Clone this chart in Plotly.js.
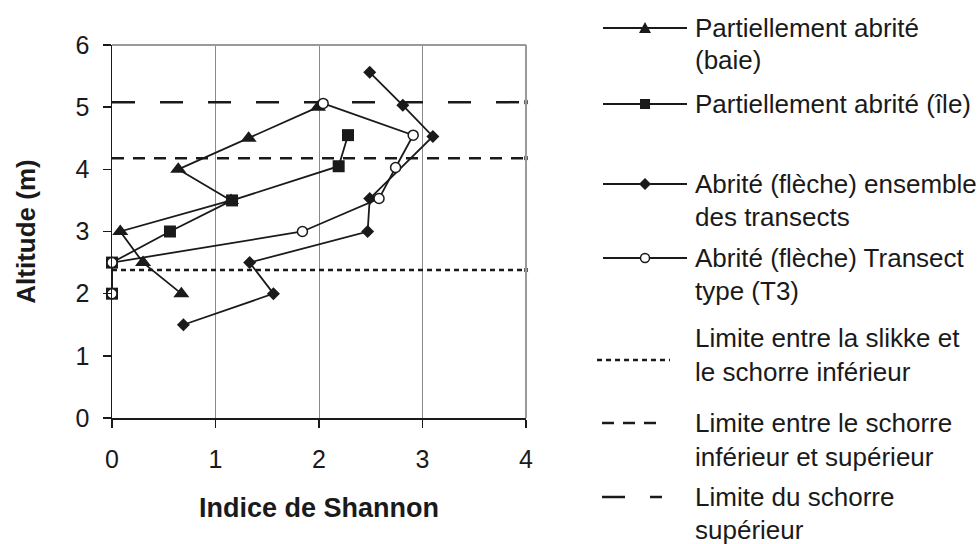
<!DOCTYPE html>
<html>
<head>
<meta charset="utf-8">
<script src="https://cdn.plot.ly/plotly-3.0.1.min.js"></script>
<style>html,body{margin:0;padding:0;background:#fff;}#chart{width:978px;height:544px;}</style>
</head>
<body>
<div id="chart"></div>
<script>
// ---- data ----
const seriesNames = [
  ["Partiellement abrité", "(baie)"],
  ["Partiellement abrité (île)"],
  ["Abrité (flèche) ensemble", "des transects"],
  ["Abrité (flèche) Transect", "type (T3)"]
];
const baieX = [0.67, 0.30, 0.08, 1.15, 0.64, 1.32, 1.99];
const baieY = [2.0, 2.5, 3.0, 3.5, 4.0, 4.5, 5.0];
const ileX = [0, 0, 0.56, 1.16, 2.19, 2.28];
const ileY = [2.0, 2.5, 3.0, 3.5, 4.05, 4.55];
const flecheX = [0.69, 1.56, 1.33, 2.47, 2.49, 3.10, 2.81, 2.49];
const flecheY = [1.5, 2.0, 2.5, 3.0, 3.53, 4.53, 5.03, 5.56];
const t3X = [0, 0, 1.84, 2.58, 2.74, 2.91, 2.04];
const t3Y = [2.0, 2.5, 3.0, 3.53, 4.03, 4.55, 5.06];

const limitNames = [
  ["Limite entre la slikke et", "le schorre inférieur"],
  ["Limite entre le schorre", "inférieur et supérieur"],
  ["Limite du schorre", "supérieur"]
];
const limitY = [2.38, 4.18, 5.08];
const limitX = [0, 4];

const xTicks = [0, 1, 2, 3, 4];
const yTicks = [0, 1, 2, 3, 4, 5, 6];
const xTitle = "Indice de Shannon";
const yTitle = "Altitude (m)";

// ---- styling ----
const FONT = "Liberation Sans, Arial, sans-serif";
const INK = "#1a1a1a";
const limitDash = ["5px,4px", "12px,9px", "23px,25px"];
const seriesSymbols = ["triangle-up", "square", "diamond", "circle"];
const seriesSizes = [14, 12, 10, 10];

const traces = [];
limitY.forEach((v, i) => {
  traces.push({
    type: "scatter", mode: "lines+markers",
    x: limitX, y: limitX.map(() => v),
    line: {color: INK, width: 2.5, dash: limitDash[i]},
    marker: {symbol: "square", size: [0, 5], color: INK},
    cliponaxis: false, showlegend: false, hoverinfo: "skip"
  });
});
const seriesData = [[baieX, baieY], [ileX, ileY], [flecheX, flecheY], [t3X, t3Y]];
seriesData.forEach((d, i) => {
  const open = seriesSymbols[i] === "circle";
  traces.push({
    type: "scatter", mode: "lines+markers",
    x: d[0], y: d[1], name: seriesNames[i].join(" "),
    line: {color: INK, width: 1.8},
    marker: {symbol: seriesSymbols[i], size: seriesSizes[i],
             color: open ? "#ffffff" : INK,
             line: {color: INK, width: open ? 1.5 : 0}},
    cliponaxis: false, showlegend: false
  });
});

// ---- plot frame geometry (pixels) ----
const W = 978, H = 544;
const L = 112, R = 526, T = 45, B = 418;
const px2x = p => (p - L) / (R - L);
const py2y = p => (B - p) / (B - T);

const shapes = [
  {type: "line", xref: "paper", yref: "paper", x0: 0, x1: 1, y0: 1, y1: 1, line: {color: "#9a9a9a", width: 2}},
  {type: "line", xref: "paper", yref: "paper", x0: 1, x1: 1, y0: 0, y1: 1, line: {color: "#9a9a9a", width: 2}}
];
const annotations = [];

// custom legend
const legSeriesY = [28, 104, 184, 258];
const legSeriesText = [[28, 60], [104], [184, 217], [258, 291]];
const legLimitY = [360, 423, 497];
const legLimitText = [[338, 372], [423, 457], [497, 530]];
const textX = 693;
const legFont = {family: FONT, size: 26, color: INK};

function addText(lines, ys) {
  lines.forEach((t, k) => {
    annotations.push({xref: "paper", yref: "paper", x: px2x(textX), y: py2y(ys[k]),
      xanchor: "left", yanchor: "middle", text: t, showarrow: false, font: legFont});
  });
}
seriesNames.forEach((nm, i) => {
  const y = py2y(legSeriesY[i]);
  shapes.push({type: "line", xref: "paper", yref: "paper", x0: px2x(603), x1: px2x(687), y0: y, y1: y,
    line: {color: INK, width: 1.8}});
  const xa = px2x(645);
  const base = {xref: "paper", yref: "paper", xsizemode: "pixel", ysizemode: "pixel", xanchor: xa, yanchor: y,
    fillcolor: INK, line: {color: INK, width: 0}};
  if (i === 0) shapes.push(Object.assign({}, base, {type: "path", path: "M-6,-5 L6,-5 L0,6 Z"}));
  if (i === 1) shapes.push(Object.assign({}, base, {type: "rect", x0: -5, x1: 5, y0: -5, y1: 5}));
  if (i === 2) shapes.push(Object.assign({}, base, {type: "path", path: "M-6,0 L0,6 L6,0 L0,-6 Z"}));
  if (i === 3) shapes.push(Object.assign({}, base, {type: "circle", x0: -4.5, x1: 4.5, y0: -4.5, y1: 4.5,
    fillcolor: "#ffffff", line: {color: INK, width: 1.5}}));
  addText(nm, legSeriesText[i]);
});
const legLimitX = [[597, 670], [602, 662], [602, 662]];
limitNames.forEach((nm, i) => {
  const y = py2y(legLimitY[i]);
  shapes.push({type: "line", xref: "paper", yref: "paper", x0: px2x(legLimitX[i][0]), x1: px2x(legLimitX[i][1]),
    y0: y, y1: y, line: {color: INK, width: 2.5, dash: limitDash[i]}});
  addText(nm, legLimitText[i]);
});

const layout = {
  width: W, height: H,
  margin: {l: L, r: W - R, t: T, b: H - B, pad: 0},
  paper_bgcolor: "#ffffff", plot_bgcolor: "#ffffff",
  font: {family: FONT, size: 25, color: INK},
  showlegend: false,
  xaxis: {
    range: [0, 4], tickvals: xTicks, ticktext: xTicks.map(String),
    showgrid: true, gridcolor: "#8a8a8a", gridwidth: 1, zeroline: false,
    showline: true, linecolor: INK, linewidth: 1.5,
    ticks: "outside", ticklen: 8, tickcolor: INK, tickwidth: 1.5,
    ticklabelstandoff: 10,
    tickfont: {family: FONT, size: 25, color: INK},
    title: {text: "<b>" + xTitle + "</b>", font: {family: FONT, size: 27, color: INK}, standoff: 26},
    automargin: false, fixedrange: true
  },
  yaxis: {
    range: [0, 6], tickvals: yTicks, ticktext: yTicks.map(String),
    showgrid: false, zeroline: false,
    showline: true, linecolor: INK, linewidth: 1.5,
    ticks: "outside", ticklen: 8, tickcolor: INK, tickwidth: 1.5,
    ticklabelstandoff: 8,
    tickfont: {family: FONT, size: 25, color: INK},
    title: {text: "<b>" + yTitle + "</b>", font: {family: FONT, size: 26, color: INK}, standoff: 32},
    automargin: false, fixedrange: true
  },
  shapes: shapes,
  annotations: annotations
};

Plotly.newPlot("chart", traces, layout, {staticPlot: true, displayModeBar: false});
</script>
</body>
</html>
